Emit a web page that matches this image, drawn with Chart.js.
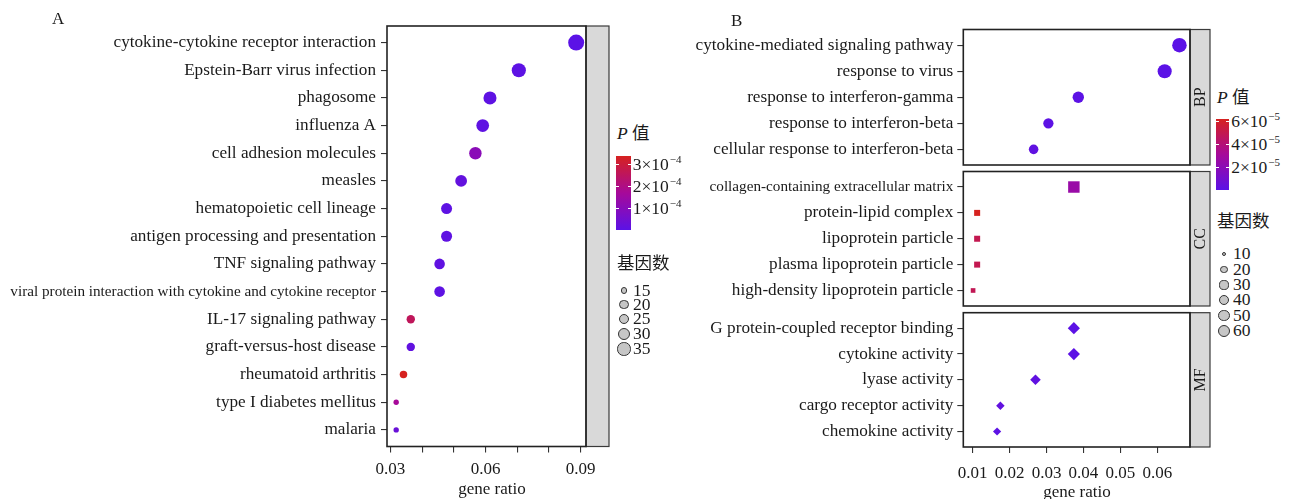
<!DOCTYPE html>
<html>
<head>
<meta charset="utf-8">
<script src="https://cdn.jsdelivr.net/npm/chart.js@4.4.1/dist/chart.umd.min.js"></script>
<style>
  body { margin: 0; width: 1289px; height: 499px; position: relative; overflow: hidden; background: #fff;
         font-family: "Liberation Serif", "Noto Sans CJK SC", serif; color: #1a1a1a; }
  canvas { position: absolute; top: 0; }
  .txt { position: absolute; line-height: 17px; white-space: nowrap; }
  .sup { font-size: 11px; position: relative; top: -7px; margin-left: 1px; }
  .bar, .key, .tk { position: absolute; }
</style>
</head>
<body>
<canvas id="chartA" width="612" height="499" style="left:0"></canvas>
<canvas id="chartBP" width="532" height="499" style="left:680px"></canvas>
<canvas id="chartCC" width="532" height="499" style="left:680px"></canvas>
<canvas id="chartMF" width="532" height="499" style="left:680px"></canvas>
<script>
// panel A: KEGG
const termsA = ['cytokine-cytokine receptor interaction', 'Epstein-Barr virus infection', 'phagosome', 'influenza A',
  'cell adhesion molecules', 'measles', 'hematopoietic cell lineage', 'antigen processing and presentation',
  'TNF signaling pathway', 'viral protein interaction with cytokine and cytokine receptor', 'IL-17 signaling pathway',
  'graft-versus-host disease', 'rheumatoid arthritis', 'type I diabetes mellitus', 'malaria']
const ratioA = [0.0886, 0.0705, 0.0614, 0.0591, 0.0568, 0.0523, 0.0477, 0.0477, 0.0455, 0.0455, 0.0364, 0.0364, 0.0341, 0.0318, 0.0318]
const countA = [39, 31, 27, 26, 25, 23, 21, 21, 20, 20, 16, 16, 15, 14, 14]
const pA = [1.5e-7, 4.0e-6, 6.0e-6, 9.0e-6, 1.05e-4, 1.8e-5, 6.5e-6, 8.0e-6, 1.2e-5, 7.5e-6, 2.55e-4, 1.4e-5, 3.36e-4, 1.7e-4, 3.2e-5]
const xTicksA = [0.03, 0.04, 0.05, 0.06, 0.07, 0.08, 0.09]
const xLabelsA = ['0.03', '', '', '0.06', '', '', '0.09']
const pTicksA = [1e-4, 2e-4, 3e-4]
const pLabelsA = ['1×10<span class="sup">−4</span>', '2×10<span class="sup">−4</span>', '3×10<span class="sup">−4</span>']
const sizeBreaksA = [15, 20, 25, 30, 35]

// panel B: GO
const termsBP = ['cytokine-mediated signaling pathway', 'response to virus', 'response to interferon-gamma',
  'response to interferon-beta', 'cellular response to interferon-beta']
const ratioBP = [0.0660, 0.0620, 0.0386, 0.0305, 0.0265]
const countBP = [62, 58, 36, 29, 25]
const pBP = [2e-9, 5e-8, 3e-7, 1e-6, 2e-6]

const termsCC = ['collagen-containing extracellular matrix', 'protein-lipid complex', 'lipoprotein particle',
  'plasma lipoprotein particle', 'high-density lipoprotein particle']
const ratioCC = [0.0374, 0.0112, 0.0112, 0.0112, 0.0101]
const countCC = [34, 10, 10, 10, 9]
const pCC = [2.6e-5, 6.25e-5, 5.0e-5, 5.0e-5, 4.9e-5]

const termsMF = ['G protein-coupled receptor binding', 'cytokine activity', 'lyase activity',
  'cargo receptor activity', 'chemokine activity']
const ratioMF = [0.0374, 0.0374, 0.0270, 0.0175, 0.0166]
const countMF = [35, 35, 25, 16, 15]
const pMF = [4e-7, 6e-7, 2e-6, 3e-6, 1e-6]

const xTicksB = [0.01, 0.02, 0.03, 0.04, 0.05, 0.06]
const xLabelsB = ['0.01', '0.02', '0.03', '0.04', '0.05', '0.06']
const pTicksB = [2e-5, 4e-5, 6e-5]
const pLabelsB = ['2×10<span class="sup">−5</span>', '4×10<span class="sup">−5</span>', '6×10<span class="sup">−5</span>']
const sizeBreaksB = [10, 20, 30, 40, 50, 60]

const SERIF = '"Liberation Serif", "Times New Roman", serif'
const stops = [[0, [91, 18, 230]], [0.5, [166, 9, 154]], [1, [214, 34, 31]]]

function colorFor(p, lo, hi) {
  const t = Math.max(0, Math.min(1, (p - lo) / (hi - lo)))
  let i = 0
  while (i < stops.length - 2 && t > stops[i + 1][0]) i++
  const [t0, c0] = stops[i], [t1, c1] = stops[i + 1]
  const f = (t - t0) / (t1 - t0)
  const c = c0.map((v, k) => Math.round(v + (c1[k] - v) * f))
  return `rgb(${c[0]},${c[1]},${c[2]})`
}

// area-like size scale: diameter grows with sqrt of count
function diamA(c) { return 5.4 + 10.6 * Math.sqrt(Math.max(0, c - 14) / 25) }
function diamB(c) { return 3.5 + 11 * Math.sqrt(Math.max(0, c - 9) / 53) }

const shapeRadius = {
  circle: d => d / 2,
  rect: d => (0.9 * d + 1.5) / Math.SQRT2,
  rectRot: d => d / 2 + 0.5
}

const framePlugin = {
  id: 'frame',
  afterDraw(chart, args, opts) {
    const { ctx, chartArea: a } = chart
    ctx.save()
    ctx.fillStyle = '#d9d9d9'
    ctx.fillRect(a.right, a.top, opts.strip, a.bottom - a.top)
    ctx.strokeStyle = '#3a3a3a'
    ctx.lineWidth = 1.2
    ctx.strokeRect(a.right, a.top, opts.strip, a.bottom - a.top)
    if (opts.label) {
      ctx.translate(a.right + opts.strip / 2, (a.top + a.bottom) / 2)
      ctx.rotate(-Math.PI / 2)
      ctx.fillStyle = '#1a1a1a'
      ctx.font = '16px ' + SERIF
      ctx.textAlign = 'center'
      ctx.textBaseline = 'middle'
      ctx.fillText(opts.label, 0, 1)
    }
    ctx.restore()
    ctx.save()
    ctx.strokeStyle = '#222'
    ctx.lineWidth = 1.6
    ctx.strokeRect(a.left, a.top, a.right - a.left, a.bottom - a.top)
    ctx.restore()
  }
}

function panel(id, o) {
  const diam = o.count.map(o.diam)
  return new Chart(document.getElementById(id), {
    type: 'scatter',
    data: {
      datasets: [{
        data: o.ratio.map((r, i) => ({ x: r, y: i + 1 })),
        pointStyle: o.shape,
        pointRadius: diam.map(shapeRadius[o.shape]),
        pointBackgroundColor: o.p.map(p => colorFor(p, o.pRange[0], o.pRange[1])),
        pointBorderWidth: 0,
        clip: false
      }]
    },
    options: {
      responsive: false,
      animation: false,
      events: [],
      layout: { padding: o.pad },
      plugins: { legend: { display: false }, tooltip: { enabled: false }, frame: { strip: o.strip, label: o.label } },
      scales: {
        x: {
          type: 'linear', min: o.xRange[0], max: o.xRange[1], display: o.showX,
          afterFit: s => { s.height = o.xH },
          afterBuildTicks: s => { s.ticks = o.xTicks.map(v => ({ value: v })) },
          ticks: { autoSkip: false, maxRotation: 0, padding: o.xPad, color: '#1a1a1a',
            font: { family: SERIF, size: 17 }, callback: (v, i) => o.xLabels[i] },
          grid: { drawOnChartArea: false, tickLength: 6, color: '#333', lineWidth: 1.1 },
          border: { display: false }
        },
        y: {
          type: 'linear', min: 0.4, max: o.terms.length + 0.6, reverse: true,
          afterFit: s => { s.width = o.yW },
          afterBuildTicks: s => { s.ticks = o.terms.map((t, i) => ({ value: i + 1 })) },
          ticks: { autoSkip: false, padding: o.yPad, color: '#1a1a1a',
            font: c => ({ family: SERIF, size: o.terms[c.index] && o.terms[c.index].length >= 40 ? 15.2 : 17.2 }),
            callback: (v, i) => o.terms[i] },
          grid: { drawOnChartArea: false, tickLength: 6, color: '#333', lineWidth: 1.1 },
          border: { display: false }
        }
      }
    },
    plugins: [framePlugin]
  })
}

const pRangeA = [Math.min(...pA), Math.max(...pA)]
const pAllB = pBP.concat(pCC, pMF)
const pRangeB = [Math.min(...pAllB), Math.max(...pAllB)]

panel('chartA', {
  terms: termsA, ratio: ratioA, count: countA, p: pA, pRange: pRangeA, diam: diamA, shape: 'circle',
  xRange: [0.0289, 0.0917], xTicks: xTicksA, xLabels: xLabelsA, showX: true, xH: 52.5, xPad: 7,
  yW: 387, yPad: 5, pad: { left: 0, top: 26, right: 26, bottom: 0 }, strip: 23, label: ''
})

const commonB = { diam: diamB, pRange: pRangeB, xRange: [0.00745, 0.06886], xTicks: xTicksB, xLabels: xLabelsB,
  yW: 283.3, yPad: 4, xPad: 10, strip: 20 }
panel('chartBP', Object.assign({}, commonB, {
  terms: termsBP, ratio: ratioBP, count: countBP, p: pBP, shape: 'circle', label: 'BP',
  showX: false, xH: 0, pad: { left: 0, top: 29.5, right: 22, bottom: 334 }
}))
panel('chartCC', Object.assign({}, commonB, {
  terms: termsCC, ratio: ratioCC, count: countCC, p: pCC, shape: 'rect', label: 'CC',
  showX: false, xH: 0, pad: { left: 0, top: 171.5, right: 22, bottom: 193 }
}))
panel('chartMF', Object.assign({}, commonB, {
  terms: termsMF, ratio: ratioMF, count: countMF, p: pMF, shape: 'rectRot', label: 'MF',
  showX: true, xH: 52, pad: { left: 0, top: 312.7, right: 22, bottom: 0 }
}))

// text and legends
function addText(html, left, top, size, center) {
  const d = document.createElement('div')
  d.className = 'txt'
  d.style.left = left + 'px'
  d.style.top = top + 'px'
  d.style.fontSize = size + 'px'
  if (center) d.style.transform = 'translateX(-50%)'
  d.innerHTML = html
  document.body.appendChild(d)
}

function colorbar(x, y, w, h, ticks, labels, range) {
  const bar = document.createElement('div')
  bar.className = 'bar'
  Object.assign(bar.style, { left: x + 'px', top: y + 'px', width: w + 'px', height: h + 'px',
    background: `linear-gradient(to top, ${stops.map(s => colorFor(range[0] + s[0] * (range[1] - range[0]), range[0], range[1]) + ' ' + s[0] * 100 + '%').join(', ')})` })
  document.body.appendChild(bar)
  ticks.forEach((v, i) => {
    const ty = y + h * (1 - (v - range[0]) / (range[1] - range[0]))
    ;[x, x + w - 3].forEach(tx => {
      const t = document.createElement('div')
      t.className = 'tk'
      Object.assign(t.style, { left: tx + 'px', top: (ty - 0.5) + 'px', width: '3px', height: '1px', background: '#fff' })
      document.body.appendChild(t)
    })
    addText(labels[i], x + w + 2, ty - 8.6, 17.5)
  })
}

function sizeLegend(cx, rows, breaks, diam) {
  breaks.forEach((b, i) => {
    const d = diam(b) * 0.88
    const k = document.createElement('div')
    k.className = 'key'
    Object.assign(k.style, { left: (cx - d / 2) + 'px', top: (rows[i] - d / 2) + 'px', width: d + 'px', height: d + 'px',
      borderRadius: '50%', background: '#c6c6c6', border: '1px solid #333', boxSizing: 'border-box' })
    document.body.appendChild(k)
    addText(String(b), cx + 9, rows[i] - 8.6, 17.5)
  })
}

addText('A', 52, 9.5, 17)
addText('B', 731, 11.5, 17)
addText('gene ratio', 492, 479.5, 17, true)
addText('gene ratio', 1077, 483, 17, true)

addText('<i>P</i> 值', 617, 124.5, 17.5)
colorbar(615.7, 156.3, 15, 74, pTicksA, pLabelsA, pRangeA)
addText('基因数', 617, 255, 17.5)
sizeLegend(624, [290.5, 304.5, 319, 334, 349], sizeBreaksA, diamA)

addText('<i>P</i> 值', 1217, 89, 17.5)
colorbar(1215.7, 119, 13.5, 71, pTicksB, pLabelsB, pRangeB)
addText('基因数', 1217, 213, 17.5)
sizeLegend(1224, [254, 269.5, 285, 300, 315.5, 331], sizeBreaksB, diamB)
</script>
</body>
</html>
